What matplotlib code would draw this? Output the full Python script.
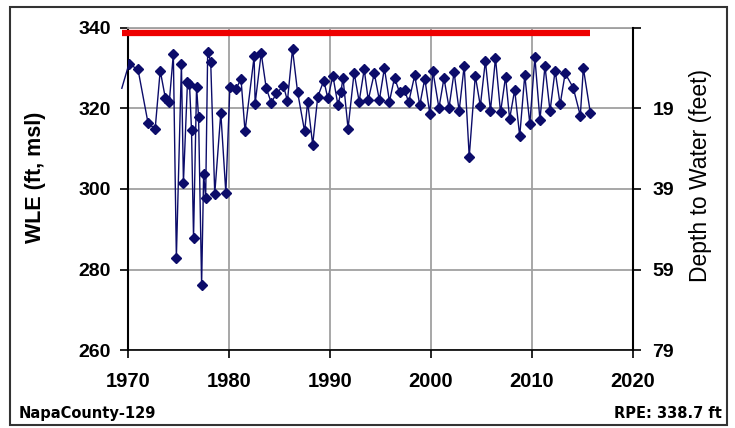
import numpy as np
import matplotlib.pyplot as plt
from matplotlib.patches import Rectangle

# well water level elevation record (decimal year, ft msl)
years = [1969.4, 1970.1, 1971.0, 1972.0, 1972.7, 1973.2, 1973.7, 1974.1, 1974.5, 1974.8,
         1975.3, 1975.5, 1975.9, 1976.1, 1976.3, 1976.5, 1976.8, 1977.0, 1977.3, 1977.5,
         1977.7, 1977.9, 1978.2, 1978.6, 1979.2, 1979.7, 1980.1, 1980.7, 1981.2, 1981.6,
         1982.5, 1982.6, 1983.2, 1983.7, 1984.2, 1984.7, 1985.4, 1985.8, 1986.3, 1986.8,
         1987.5, 1987.8, 1988.3, 1988.8, 1989.4, 1989.8, 1990.3, 1990.8, 1991.1, 1991.3,
         1991.8, 1992.4, 1992.9, 1993.4, 1993.8, 1994.4, 1994.9, 1995.4, 1995.9, 1996.4,
         1996.9, 1997.4, 1997.8, 1998.4, 1998.9, 1999.4, 1999.9, 2000.2, 2000.8, 2001.3,
         2001.8, 2002.3, 2002.8, 2003.3, 2003.8, 2004.4, 2004.9, 2005.4, 2005.9, 2006.4,
         2006.9, 2007.4, 2007.8, 2008.3, 2008.8, 2009.3, 2009.8, 2010.3, 2010.8, 2011.3,
         2011.8, 2012.3, 2012.8, 2013.3, 2014.1, 2014.8, 2015.1, 2015.8]
wle = [325.0, 331.0, 329.7, 316.3, 314.9, 329.4, 322.7, 321.6, 333.5, 282.9,
       331.0, 301.6, 326.5, 326.1, 314.6, 287.9, 325.4, 317.8, 276.2, 303.6,
       297.8, 334.0, 331.6, 298.8, 318.9, 299.0, 325.4, 324.8, 327.3, 314.3,
       332.9, 321.2, 333.7, 325.0, 321.4, 323.7, 325.6, 321.9, 334.7, 324.1,
       314.3, 321.6, 311.0, 322.9, 326.9, 322.5, 328.1, 320.8, 324.1, 327.6,
       315.0, 328.9, 321.7, 329.7, 322.1, 328.7, 322.1, 330.0, 321.7, 327.6,
       324.0, 324.6, 321.5, 328.2, 320.8, 327.4, 318.6, 329.3, 320.1, 327.5,
       320.2, 329.0, 319.3, 330.6, 308.0, 328.1, 320.6, 331.8, 319.4, 332.5,
       319.0, 327.9, 317.4, 324.6, 313.1, 328.3, 316.1, 332.7, 317.1, 330.5,
       319.3, 329.4, 321.0, 328.7, 325.1, 318.2, 330.0, 318.8]
rpe = 338.7

x_ticks = [1970, 1980, 1990, 2000, 2010, 2020]
y_ticks = [260, 280, 300, 320, 340]
depth_labels = ['79', '59', '39', '19', '']

plt.rcParams['font.family'] = ['Liberation Sans', 'DejaVu Sans']

fig = plt.figure(figsize=(7.35, 4.28), dpi=100)
ax = fig.add_axes([0.174, 0.182, 0.687, 0.753])

navy = '#0c0c6a'
ax.plot([years[0], years[-1]], [rpe, rpe], color='#ee0000', lw=4.5, solid_capstyle='butt',
        clip_on=False, zorder=3)
ax.plot(years, wle, color=navy, lw=1.0, clip_on=False, zorder=4)
ax.plot(years[1:], wle[1:], linestyle='none', marker='D', ms=4.8, color=navy, zorder=5)

ax.set_xlim(1970, 2020)
ax.set_ylim(260, 340)
ax.set_xticks(x_ticks)
ax.set_yticks(y_ticks)
ax.grid(True, color='#a0a0a0', lw=1.3)
ax.set_axisbelow(True)
ax.spines['top'].set_color('#a0a0a0')
ax.spines['top'].set_linewidth(1.3)
ax.spines['left'].set_linewidth(1.5)
ax.spines['bottom'].set_linewidth(1.2)
ax.spines['right'].set_visible(False)
ax.tick_params(axis='both', direction='out', length=6, width=1.2, labelsize=14, pad=6)
ax.tick_params(axis='x', pad=10, labelsize=14.5)
for lab in ax.get_xticklabels() + ax.get_yticklabels():
    lab.set_fontweight('bold')
ax.set_ylabel('WLE (ft, msl)', fontsize=15.5, fontweight='bold')
ax.yaxis.set_label_coords(-0.163, 0.535)

ax2 = ax.twinx()
ax2.set_ylim(260, 340)
ax2.set_yticks(y_ticks)
ax2.set_yticklabels(depth_labels)
ax2.spines['right'].set_linewidth(1.5)
ax2.spines['left'].set_visible(False)
ax2.spines['top'].set_visible(False)
ax2.spines['bottom'].set_visible(False)
ax2.tick_params(axis='y', direction='out', length=6, width=1.2, labelsize=14, pad=8)
for lab in ax2.get_yticklabels():
    lab.set_fontweight('bold')
ax2.set_ylabel('Depth to Water (feet)', fontsize=16.5)
ax2.yaxis.set_label_coords(1.112, 0.543)

fig.text(0.025, 0.035, 'NapaCounty-129', fontsize=10.5, fontweight='bold',
         family='DejaVu Sans', ha='left', va='center')
fig.text(0.982, 0.035, 'RPE: 338.7 ft', fontsize=10.5, fontweight='bold',
         family='DejaVu Sans', ha='right', va='center')
fig.patches.append(Rectangle((0.0136, 0.007), 0.9755, 0.9766, transform=fig.transFigure,
                             fill=False, edgecolor='#333333', lw=1.5))

fig.savefig('out.png', dpi=100)
